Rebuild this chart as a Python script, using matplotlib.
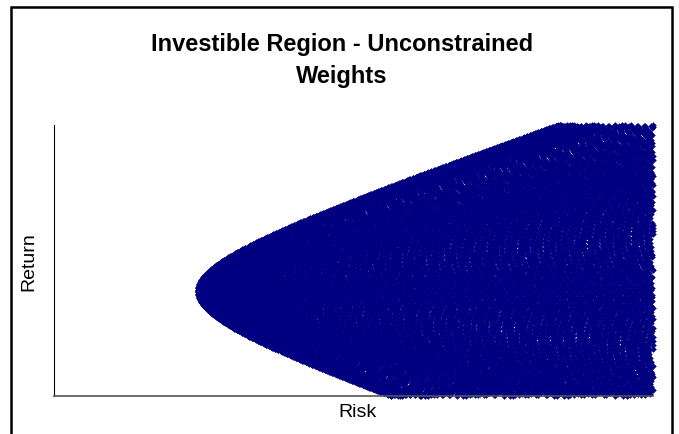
import numpy as np
import matplotlib
matplotlib.use("Agg")
import matplotlib.pyplot as plt
from matplotlib.patches import Rectangle

# Asset inputs (percent)
asset_names = ["Asset 1", "Asset 2", "Asset 3"]
asset_returns = [5.0, 10.0, 16.0]
asset_vols = [10.0, 15.0, 20.0]
asset_corr = [[1.0, 0.0, 0.0],
              [0.0, 1.0, 0.0],
              [0.0, 0.0, 1.0]]
# Unconstrained weight grid for assets 1 and 2 (asset 3 takes the rest)
weight_start = -2.5
weight_step = 0.02
weight_count = 276
weight_grid = [round(weight_start + weight_step * i, 3) for i in range(weight_count)]

x_limits = [0.0, 32.0]
y_limits = [-0.5, 21.3]

mu = np.array(asset_returns)
vol = np.array(asset_vols)
cov = np.array(asset_corr) * np.outer(vol, vol)

w1, w2 = np.meshgrid(weight_grid, weight_grid)
w1 = w1.ravel(); w2 = w2.ravel()
W = np.column_stack([w1, w2, 1 - w1 - w2])
port_ret = W @ mu
port_risk = np.sqrt(np.einsum('ij,jk,ik->i', W, cov, W))
inside = ((port_risk >= x_limits[0]) & (port_risk <= x_limits[1]) &
          (port_ret >= y_limits[0]) & (port_ret <= y_limits[1]))

plt.rcParams['font.family'] = ['Liberation Sans', 'DejaVu Sans']
fig = plt.figure(figsize=(6.79, 4.35), dpi=100)
ax = fig.add_axes([0.0795, 0.0874, 0.9617 - 0.0795, 0.7103 - 0.0874])
ax.plot(port_risk[inside], port_ret[inside], linestyle='none', marker='D',
        ms=3.0, mfc='#000080', mec='#000080', mew=0.3, clip_on=False)
ax.set_xlim(x_limits)
ax.set_ylim(y_limits)
ax.set_xticks([]); ax.set_yticks([])
for s in ['top', 'right']:
    ax.spines[s].set_visible(False)
ax.spines['left'].set_linewidth(0.8)
ax.spines['bottom'].set_linewidth(1.2)
ax.spines['bottom'].set_color('#555555')
fig.text(358 / 679, 1 - 413 / 435, 'Risk', ha='center', va='center', fontsize=14)
fig.text(29 / 679, 1 - 262 / 435, 'Return', ha='center', va='center', fontsize=14,
         rotation=90)
fig.text(0.504, 1 - 45 / 435, 'Investible Region - Unconstrained', ha='center', va='center',
         fontsize=17, fontweight='bold')
fig.text(0.504, 1 - 77 / 435, 'Weights', ha='center', va='center',
         fontsize=17, fontweight='bold')
fig.patches.append(Rectangle((11 / 679, -0.05), (672 - 11) / 679, 1.05 - 8 / 435,
                             transform=fig.transFigure, fill=False, lw=1.8, ec='black'))
fig.savefig('out.png', dpi=100)
